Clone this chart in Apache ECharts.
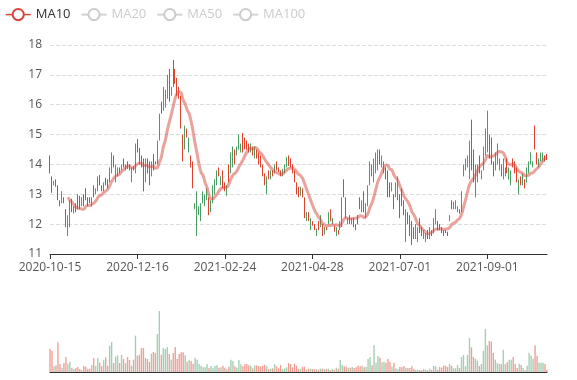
<!DOCTYPE html>
<html><head><meta charset="utf-8">
<script src="https://cdn.jsdelivr.net/npm/echarts@6/dist/echarts.min.js"></script>
<style>html,body{margin:0;padding:0;background:#fff}#main{width:577px;height:380px}</style>
</head><body><div id="main"></div>
<script>
// ---- categories ----
const startDate = '2020-10-15';
const dayCount = 251;
const holidays = ['2021-01-01','2021-02-11','2021-02-12','2021-02-15','2021-02-16','2021-02-17',
  '2021-04-05','2021-05-03','2021-05-04','2021-09-20','2021-09-21',
  '2021-10-01','2021-10-04','2021-10-05','2021-10-06','2021-10-07'];
const tickLabels = ['2020-10-15','2020-12-16','2021-02-24','2021-04-28','2021-07-01','2021-09-01'];

// ---- daily candles: [open, close, low, high] ----
const ohlc = [
[14.26,13.74,13.7,14.3],[13.56,13.09,13.05,13.6],[13.32,13.43,13.3,13.45],[13.47,13.28,13.25,13.5],[13.26,12.84,12.8,13.3],
[12.78,12.62,12.6,12.8],[12.74,13.06,12.7,13.1],[12.88,12.72,12.7,12.9],[12.46,11.94,11.9,12.5],[11.64,12.26,11.6,12.3],
[11.94,12.76,11.9,12.8],[12.81,12.44,12.4,12.85],[12.37,12.58,12.35,12.6],[12.66,12.44,12.4,12.7],[12.96,12.54,12.5,13.0],
[12.91,12.54,12.5,12.95],[12.64,12.86,12.6,12.9],[12.96,12.64,12.6,13.0],[13.16,12.84,12.8,13.2],[12.86,12.64,12.6,12.9],
[12.88,12.72,12.7,12.9],[12.64,12.86,12.6,12.9],[13.26,12.94,12.9,13.3],[13.02,13.18,13.0,13.2],[13.14,13.56,13.1,13.6],
[13.61,13.34,13.3,13.65],[13.28,13.12,13.1,13.3],[13.14,13.36,13.1,13.4],[13.51,13.34,13.3,13.55],[13.46,13.24,13.2,13.5],
[13.44,13.86,13.4,13.9],[13.74,14.36,13.7,14.4],[14.26,13.94,13.9,14.3],[13.44,13.96,13.4,14.0],[13.64,13.86,13.6,13.9],
[13.88,13.72,13.7,13.9],[13.82,13.98,13.8,14.0],[14.16,13.94,13.9,14.2],[13.82,13.98,13.8,14.0],[14.07,13.88,13.85,14.1],
[13.98,13.82,13.8,14.0],[13.44,13.86,13.4,13.9],[13.93,13.82,13.8,13.95],[13.74,14.66,13.7,14.7],[14.81,14.44,14.4,14.85],
[14.51,14.04,14.0,14.55],[14.26,13.94,13.9,14.3],[14.16,13.14,13.1,14.2],[13.44,14.16,13.4,14.2],[14.16,13.74,13.7,14.2],
[14.06,13.34,13.3,14.1],[13.64,14.06,13.6,14.1],[14.31,13.84,13.8,14.35],[14.09,14.01,14.0,14.1],[14.04,14.76,14.0,14.8],
[14.84,15.66,14.8,15.7],[16.06,15.74,15.7,16.1],[15.84,16.56,15.8,16.6],[15.94,16.46,15.9,16.5],[16.24,16.96,16.2,17.0],
[17.16,16.14,16.1,17.2],[16.34,16.56,16.3,16.6],[17.46,16.64,16.6,17.5],[17.16,16.74,16.7,17.2],[16.86,16.34,16.3,16.9],
[16.56,16.24,16.2,16.6],[16.26,15.24,15.2,16.3],[14.96,14.14,14.1,15.0],[14.54,15.26,14.5,15.3],[15.16,14.94,14.9,15.2],
[14.44,14.86,14.4,14.9],[14.26,13.94,13.9,14.3],[14.06,13.24,13.2,14.1],[12.52,12.68,12.5,12.7],[11.64,13.06,11.6,13.1],
[12.34,12.56,12.3,12.6],[12.14,12.66,12.1,12.7],[12.74,13.06,12.7,13.1],[12.64,12.96,12.6,13.0],[12.84,13.16,12.8,13.2],
[12.86,12.34,12.3,12.9],[12.44,12.76,12.4,12.8],[12.74,13.26,12.7,13.3],[13.04,13.46,13.0,13.5],[13.34,13.76,13.3,13.8],
[13.86,13.64,13.6,13.9],[13.34,13.56,13.3,13.6],[13.76,13.24,13.2,13.8],[13.36,13.14,13.1,13.4],[12.99,13.26,12.95,13.3],
[13.96,13.44,13.4,14.0],[13.74,14.36,13.7,14.4],[13.94,14.56,13.9,14.6],[14.46,14.04,14.0,14.5],[14.34,14.56,14.3,14.6],
[14.54,14.96,14.5,15.0],[14.44,14.66,14.4,14.7],[15.01,14.44,14.4,15.05],[14.86,14.54,14.5,14.9],[14.76,14.54,14.5,14.8],
[14.66,14.44,14.4,14.7],[14.44,14.66,14.4,14.7],[14.56,14.34,14.3,14.6],[14.24,14.56,14.2,14.6],[14.46,14.24,14.2,14.5],
[14.36,14.04,14.0,14.4],[14.26,13.94,13.9,14.3],[13.96,13.64,13.6,14.0],[13.66,13.34,13.3,13.7],[13.04,13.56,13.0,13.6],
[13.76,13.54,13.5,13.8],[13.54,13.76,13.5,13.8],[13.78,13.62,13.6,13.8],[13.74,13.96,13.7,14.0],[14.06,13.84,13.8,14.1],
[13.88,13.77,13.75,13.9],[13.78,13.62,13.6,13.8],[13.62,13.83,13.6,13.85],[13.74,13.96,13.7,14.0],[13.94,14.21,13.9,14.25],
[14.26,13.99,13.95,14.3],[14.16,13.94,13.9,14.2],[13.96,13.74,13.7,14.0],[13.76,13.44,13.4,13.8],[13.36,13.04,13.0,13.4],
[13.21,12.94,12.9,13.25],[12.99,13.21,12.95,13.25],[13.16,12.94,12.9,13.2],[12.86,12.24,12.2,12.9],[12.14,12.36,12.1,12.4],
[12.36,12.14,12.1,12.4],[11.84,12.16,11.8,12.2],[12.08,11.97,11.95,12.1],[11.98,11.82,11.8,12.0],[11.62,11.83,11.6,11.85],
[12.06,11.84,11.8,12.1],[11.94,12.26,11.9,12.3],[11.96,11.64,11.6,12.0],[11.67,11.88,11.65,11.9],[11.89,11.81,11.8,11.9],
[12.04,12.36,12.0,12.4],[12.46,12.14,12.1,12.5],[12.02,12.18,12.0,12.2],[11.93,11.77,11.75,11.95],[11.62,11.88,11.6,11.9],
[11.78,11.67,11.65,11.8],[11.82,12.08,11.8,12.1],[11.94,12.86,11.9,12.9],[13.46,12.94,12.9,13.5],[12.86,12.24,12.2,12.9],
[12.02,12.18,12.0,12.2],[12.26,12.04,12.0,12.3],[12.02,12.18,12.0,12.2],[12.16,11.94,11.9,12.2],[11.98,11.82,11.8,12.0],
[12.26,12.04,12.0,12.3],[12.86,12.54,12.5,12.9],[12.44,12.76,12.4,12.8],[13.06,12.44,12.4,13.1],[12.24,12.66,12.2,12.7],
[12.64,13.26,12.6,13.3],[13.34,14.06,13.3,14.1],[13.96,13.64,13.6,14.0],[13.44,14.16,13.4,14.2],[13.74,14.36,13.7,14.4],
[13.84,14.46,13.8,14.5],[14.46,14.04,14.0,14.5],[13.94,14.26,13.9,14.3],[13.74,14.06,13.7,14.1],[13.86,13.54,13.5,13.9],
[13.76,12.94,12.9,13.8],[13.36,12.94,12.9,13.4],[13.14,13.36,13.1,13.4],[12.96,12.54,12.5,13.0],[12.94,13.36,12.9,13.4],
[12.84,13.56,12.8,13.6],[12.96,12.24,12.2,13.0],[13.16,12.64,12.6,13.2],[12.76,12.34,12.3,12.8],[11.44,12.46,11.4,12.5],
[12.36,12.04,12.0,12.4],[12.26,11.64,11.6,12.3],[12.06,11.34,11.3,12.1],[11.86,11.54,11.5,11.9],[11.54,11.96,11.5,12.0],
[11.44,11.86,11.4,11.9],[12.16,11.74,11.7,12.2],[11.86,11.64,11.6,11.9],[11.54,11.76,11.5,11.8],[11.44,11.66,11.4,11.7],
[11.76,11.54,11.5,11.8],[11.54,11.86,11.5,11.9],[11.78,11.62,11.6,11.8],[11.74,12.16,11.7,12.2],[12.04,12.46,12.0,12.5],
[12.06,11.84,11.8,12.1],[11.98,11.82,11.8,12.0],[11.88,11.72,11.7,11.9],[11.78,11.62,11.6,11.8],[11.79,11.71,11.7,11.8],
[11.73,11.62,11.6,11.75],[12.12,12.28,12.1,12.3],[12.76,12.54,12.5,12.8],[12.52,12.73,12.5,12.75],[12.52,12.78,12.5,12.8],
[12.42,12.58,12.4,12.6],[12.48,12.37,12.35,12.5],[12.44,13.06,12.4,13.1],[13.64,13.96,13.6,14.0],[13.84,14.16,13.8,14.2],
[13.94,14.26,13.9,14.3],[13.54,14.76,13.5,14.8],[15.46,13.84,13.8,15.5],[14.46,13.44,13.4,14.5],[12.94,13.96,12.9,14.0],
[13.44,13.96,13.4,14.0],[14.26,13.74,13.7,14.3],[13.52,13.78,13.5,13.8],[13.84,14.56,13.8,14.6],[14.34,15.16,14.3,15.2],
[14.44,15.76,14.4,15.8],[14.96,14.24,14.2,15.0],[14.86,14.04,14.0,14.9],[14.06,13.64,13.6,14.1],[13.84,14.36,13.8,14.4],
[14.04,14.66,14.0,14.7],[13.84,14.16,13.8,14.2],[13.96,13.64,13.6,14.0],[13.54,14.16,13.5,14.2],[13.62,13.88,13.6,13.9],
[14.16,13.74,13.7,14.2],[13.54,13.86,13.5,13.9],[13.34,13.76,13.3,13.8],[14.16,13.94,13.9,14.2],[14.06,13.74,13.7,14.1],
[13.86,13.44,13.4,13.9],[13.04,13.46,13.0,13.5],[13.56,13.34,13.3,13.6],[13.34,13.66,13.3,13.7],[13.46,13.24,13.2,13.5],
[13.44,13.86,13.4,13.9],[13.74,14.06,13.7,14.1],[14.04,14.36,14.0,14.4],[13.92,14.08,13.9,14.1],[15.26,14.54,14.5,15.3],
[14.36,14.04,14.0,14.4],[13.92,14.18,13.9,14.2],[14.12,14.38,14.1,14.4],[14.12,14.38,14.1,14.4],[14.28,14.12,14.1,14.3],
[14.33,14.17,14.15,14.35]
];

// ---- daily volume ----
const volumes = [
70,64,17,20,89,24,12,27,45,25, 31,13,9,12,15,9,5,18,16,10, 10,21,42,18,41,28,17,36,44,19,
79,90,27,46,50,27,51,39,27,45, 36,19,37,109,49,52,72,72,42,39, 30,55,60,57,114,183,52,72,69,75,
54,37,57,75,39,54,59,59,50,31, 36,33,25,42,37,24,19,14,14,24, 12,18,11,19,20,13,14,19,13,8,
16,37,33,17,13,36,23,17,23,24, 20,19,11,20,20,18,17,18,22,17, 9,10,11,24,17,11,21,8,11,14,
27,
24,14,25,19,9,10,16,16,7,10, 10,9,8,8,7,10,10,9,9,10, 5,9,7,13,10,36,21,17,16,13,
13,15,12,14,19,17,19,14,16,39, 45,20,81,28,48,43,29,31,28,39, 31,16,28,11,9,15,14,18,13,11,
12,17,9,6,7,6,5,9,7,5,10, 7,18,17,7,15,13,19,19,15,24, 19,11,11,21,12,45,51,17,51,102,
74,45,40,34,18,24,64,129,80,93, 91,57,37,27,24,24,67,24,29,37, 37,45,24,12,25,22,12,5,19,58,
49,40,80,49,28,28,28,24,7
];

const maNames = ['MA10','MA20','MA50','MA100'];
const maDays = [10,20,50,100];

function tradingDays(start, n, skip) {
  const out = [];
  const d = new Date(start + 'T00:00:00Z');
  while (out.length < n) {
    const wd = d.getUTCDay();
    const s = d.toISOString().slice(0, 10);
    if (wd !== 0 && wd !== 6 && skip.indexOf(s) < 0) out.push(s);
    d.setUTCDate(d.getUTCDate() + 1);
  }
  return out;
}
const dates = tradingDays(startDate, dayCount, holidays);

function calcMA(n) {
  return ohlc.map((r, i) => {
    if (i < n - 1) return '-';
    let s = 0;
    for (let j = i - n + 1; j <= i; j++) s += ohlc[j][1];
    return +(s / n).toFixed(3);
  });
}

const UP = '#4a9d64', DOWN = '#e0402c';
const FONT = 'Open Sans';
const labelShow = (idx, val) => tickLabels.indexOf(val) >= 0;

const chart = echarts.init(document.getElementById('main'), null, {renderer: 'canvas'});
chart.setOption({
  animation: false,
  textStyle: {fontFamily: FONT},
  legend: {
    data: maNames, left: 0, top: 3, itemGap: 10, itemWidth: 25, itemHeight: 14,
    selected: {MA20: false, MA50: false, MA100: false},
    inactiveColor: '#ccc',
    lineStyle: {width: 1.5, opacity: 1},
    itemStyle: {borderWidth: 1.5},
    textStyle: {fontSize: 13, color: '#333', fontFamily: FONT}
  },
  grid: [
    {left: 50, right: 30, top: 45, height: 209},
    {left: 50, right: 30, top: 311, height: 61}
  ],
  xAxis: [
    {type: 'category', data: dates, boundaryGap: false, gridIndex: 0,
     axisLine: {onZero: false, lineStyle: {color: '#333'}},
     axisTick: {show: true, interval: labelShow, lineStyle: {color: '#333'}},
     axisLabel: {interval: labelShow, color: '#555', fontSize: 12, fontFamily: FONT},
     splitLine: {show: false}},
    {type: 'category', data: dates, boundaryGap: false, gridIndex: 1,
     axisLine: {onZero: false, lineStyle: {color: '#333'}},
     axisTick: {show: false}, axisLabel: {show: false}, splitLine: {show: false}}
  ],
  yAxis: [
    {scale: true, gridIndex: 0, min: 11, max: 18, interval: 1,
     axisLine: {show: false}, axisTick: {show: false},
     axisLabel: {color: '#555', fontSize: 12, fontFamily: FONT},
     splitLine: {show: true, lineStyle: {type: 'dashed', color: '#ddd'}}},
    {scale: true, gridIndex: 1, min: 0, max: 'dataMax',
     axisLine: {show: false}, axisTick: {show: false}, axisLabel: {show: false}, splitLine: {show: false}}
  ],
  series: [
    {name: 'K', type: 'candlestick', data: ohlc, xAxisIndex: 0, yAxisIndex: 0,
     itemStyle: {color: UP, color0: DOWN, borderColor: UP, borderColor0: DOWN}},
    ...maNames.map((nm, k) => ({
      name: nm, type: 'line', data: calcMA(maDays[k]), smooth: true, showSymbol: false,
      color: ['#d6453b', '#5470c6', '#91cc75', '#fac858'][k],
      lineStyle: {width: 3, opacity: 0.5}
    })),
    {name: 'Volume', type: 'bar', xAxisIndex: 1, yAxisIndex: 1,
     data: volumes.map((v, i) => ({value: v, itemStyle: {color: ohlc[i][1] >= ohlc[i][0] ? UP : DOWN, opacity: 0.5}}))}
  ]
});
</script></body></html>
